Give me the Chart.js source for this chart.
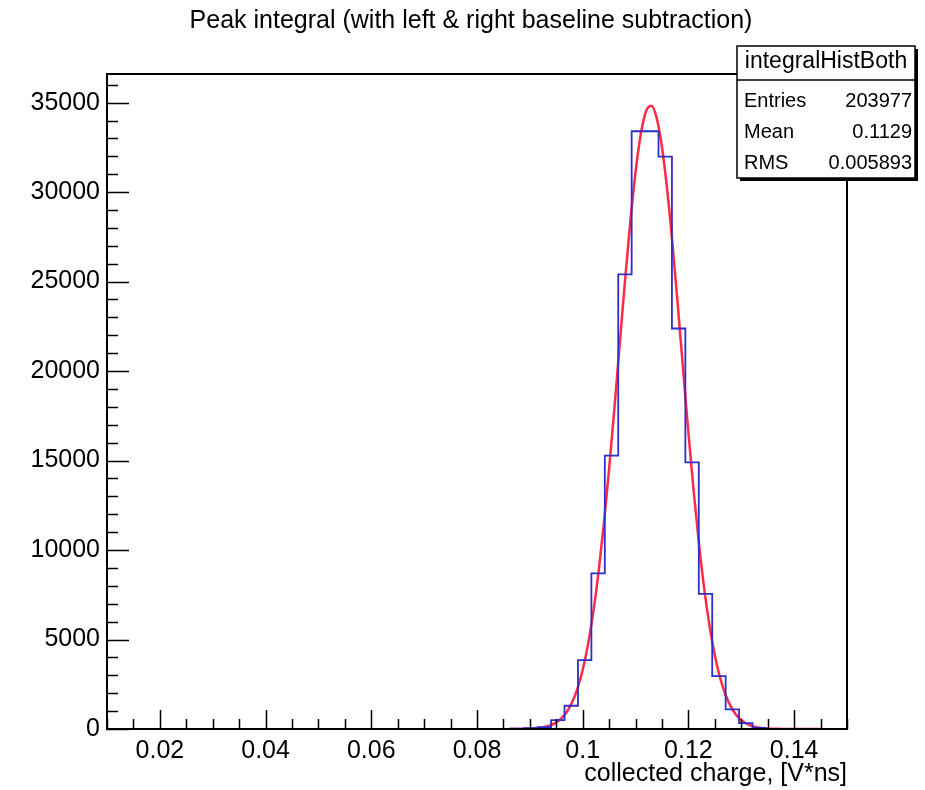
<!DOCTYPE html>
<html lang="en">
  <head>
    <meta charset="UTF-8" />
    <title>Peak integral</title>
    <script src="https://cdn.jsdelivr.net/npm/chart.js"></script>
    <style>
      body { margin: 0; background: #fff; }
      #chart-container { width: 925px; height: 790px; }
    </style>
  </head>
  <body>
    <div id="chart-container">
      <canvas id="my-chart"></canvas>
    </div>

    <script>
      // histogram bins (left edges, last entry = right edge of last bin)
      const binEdges = [0.0864, 0.08894, 0.09148, 0.09402, 0.09656, 0.0991, 0.10164, 0.10418, 0.10672,
        0.10926, 0.1118, 0.11434, 0.11688, 0.11942, 0.12196, 0.1245, 0.12704, 0.12958, 0.13212, 0.13466, 0.1372];
      const binCounts = [20, 50, 110, 500, 1300, 3850, 8700, 15280, 25400, 33400, 33400, 31980,
        22380, 14900, 7550, 2950, 1100, 330, 60, 10];

      // gaussian fit curve
      const fitX = [0.086, 0.087, 0.088, 0.089, 0.09, 0.091, 0.092, 0.093, 0.094, 0.095, 0.096, 0.097,
        0.098, 0.099, 0.1, 0.101, 0.102, 0.103, 0.104, 0.105, 0.106, 0.107, 0.108, 0.109, 0.11, 0.111,
        0.112, 0.113, 0.114, 0.115, 0.116, 0.117, 0.118, 0.119, 0.12, 0.121, 0.122, 0.123, 0.124, 0.125,
        0.126, 0.127, 0.128, 0.129, 0.13, 0.131, 0.132, 0.133, 0.134, 0.135, 0.136, 0.137, 0.138, 0.139,
        0.14, 0.141, 0.142, 0.143, 0.144, 0.145];
      const fitY = [1, 2, 5, 10, 20, 38, 70, 125, 217, 368, 605, 966, 1499, 2262, 3314, 4716, 6527, 8772,
        11459, 14543, 17937, 21495, 25033, 28323, 31138, 33264, 34533, 34830, 34137, 32510, 30083, 27049,
        23635, 20063, 16550, 13267, 10333, 7820, 5750, 4109, 2852, 1925, 1262, 804, 497, 299, 175, 99, 55,
        29, 15, 8, 4, 2, 1, 0, 0, 0, 0, 0];

      const xTickValues = [0.02, 0.04, 0.06, 0.08, 0.1, 0.12, 0.14];
      const xTickLabels = ["0.02", "0.04", "0.06", "0.08", "0.1", "0.12", "0.14"];
      const yTickValues = [0, 5000, 10000, 15000, 20000, 25000, 30000, 35000];

      const xMin = 0.01, xMax = 0.15;
      const yMax = 36600;

      const titleText = "Peak integral (with left & right baseline subtraction)";
      const xTitle = "collected charge, [V*ns]";
      const statsName = "integralHistBoth";
      const statsRows = [["Entries", "203977"], ["Mean", "0.1129"], ["RMS", "0.005893"]];

      const FONT = "'Liberation Sans', Arial, Helvetica, sans-serif";

      const histData = [{ x: xMin, y: 0 }];
      binEdges.forEach((e, i) => histData.push({ x: e, y: i < binCounts.length ? binCounts[i] : 0 }));
      histData.push({ x: xMax, y: 0 });

      const fitData = fitX.map((x, i) => ({ x: x, y: fitY[i] }));

      // ROOT style frame, inner ticks, title and stats box
      const rootDecor = {
        id: "rootDecor",
        afterDraw(chart) {
          const ctx = chart.ctx;
          const a = chart.chartArea;
          const xs = chart.scales.x, ys = chart.scales.y;
          ctx.save();

          // ticks
          ctx.strokeStyle = "#000";
          ctx.lineWidth = 1.5;
          ctx.beginPath();
          for (let i = 0; i <= 28; i++) {
            const v = xMin + i * 0.005;
            const px = Math.round(xs.getPixelForValue(v)) + 0.5;
            const len = i % 4 === 2 ? 19 : 10;
            ctx.moveTo(px, a.bottom);
            ctx.lineTo(px, a.bottom - len);
          }
          for (let v = 0; v <= yMax; v += 1000) {
            const py = Math.round(ys.getPixelForValue(v)) + 0.5;
            const len = v % 5000 === 0 ? 22 : 11;
            ctx.moveTo(a.left, py);
            ctx.lineTo(a.left + len, py);
          }
          ctx.stroke();

          // frame
          ctx.lineWidth = 2;
          ctx.strokeRect(a.left, a.top, a.right - a.left, a.bottom - a.top);

          // title
          ctx.fillStyle = "#000";
          ctx.font = "25px " + FONT;
          ctx.textAlign = "center";
          ctx.textBaseline = "middle";
          ctx.fillText(titleText, 471, 21);

          // x axis title
          ctx.font = "25px " + FONT;
          ctx.textAlign = "right";
          ctx.fillText(xTitle, a.right, 774);

          // stats box
          const bx = 737, by = 46, bw = 178, bh = 132;
          ctx.fillStyle = "#000";
          ctx.fillRect(bx + 3, by + 3, bw, bh);
          ctx.fillStyle = "#fff";
          ctx.fillRect(bx, by, bw, bh);
          ctx.lineWidth = 1.5;
          ctx.strokeRect(bx, by, bw, bh);
          ctx.beginPath();
          ctx.moveTo(bx, by + 34);
          ctx.lineTo(bx + bw, by + 34);
          ctx.stroke();
          ctx.fillStyle = "#000";
          ctx.font = "23px " + FONT;
          ctx.textAlign = "center";
          ctx.fillText(statsName, bx + bw / 2, by + 16);
          ctx.font = "20px " + FONT;
          statsRows.forEach((r, i) => {
            const ty = by + 55 + i * 31;
            ctx.textAlign = "left";
            ctx.fillText(r[0], bx + 7, ty);
            ctx.textAlign = "right";
            ctx.fillText(r[1], bx + bw - 3, ty);
          });
          ctx.restore();
        },
      };

      const ctx = document.getElementById("my-chart").getContext("2d");
      const myChart = new Chart(ctx, {
        type: "line",
        data: {
          datasets: [
            {
              label: "histogram",
              data: histData,
              stepped: true,
              borderColor: "#2e2ec8",
              borderWidth: 1.8,
              pointRadius: 0,
              fill: false,
            },
            {
              label: "fit",
              data: fitData,
              borderColor: "#ff2a48",
              borderWidth: 2.5,
              pointRadius: 0,
              cubicInterpolationMode: "monotone",
              fill: false,
            },
          ],
        },
        options: {
          responsive: true,
          maintainAspectRatio: false,
          animation: false,
          layout: { padding: { left: 0, top: 74, right: 78, bottom: 0 } },
          plugins: { legend: { display: false }, tooltip: { enabled: false } },
          scales: {
            x: {
              type: "linear",
              min: xMin,
              max: xMax,
              grid: { display: false, drawTicks: false },
              border: { display: false },
              afterFit: (s) => { s.height = 61; },
              afterBuildTicks: (s) => { s.ticks = xTickValues.map((v) => ({ value: v })); },
              ticks: {
                padding: 7,
                color: "#000",
                font: { family: FONT, size: 25 },
                maxRotation: 0,
                autoSkip: false,
                callback: (v) => xTickLabels[xTickValues.indexOf(v)],
              },
            },
            y: {
              min: 0,
              max: yMax,
              grid: { display: false, drawTicks: false },
              border: { display: false },
              afterFit: (s) => { s.width = 107; },
              afterBuildTicks: (s) => { s.ticks = yTickValues.map((v) => ({ value: v })); },
              ticks: {
                padding: 7,
                color: "#000",
                autoSkip: false,
                font: { family: FONT, size: 25 },
                callback: (v) => String(v),
              },
            },
          },
        },
        plugins: [rootDecor],
      });
    </script>
  </body>
</html>
